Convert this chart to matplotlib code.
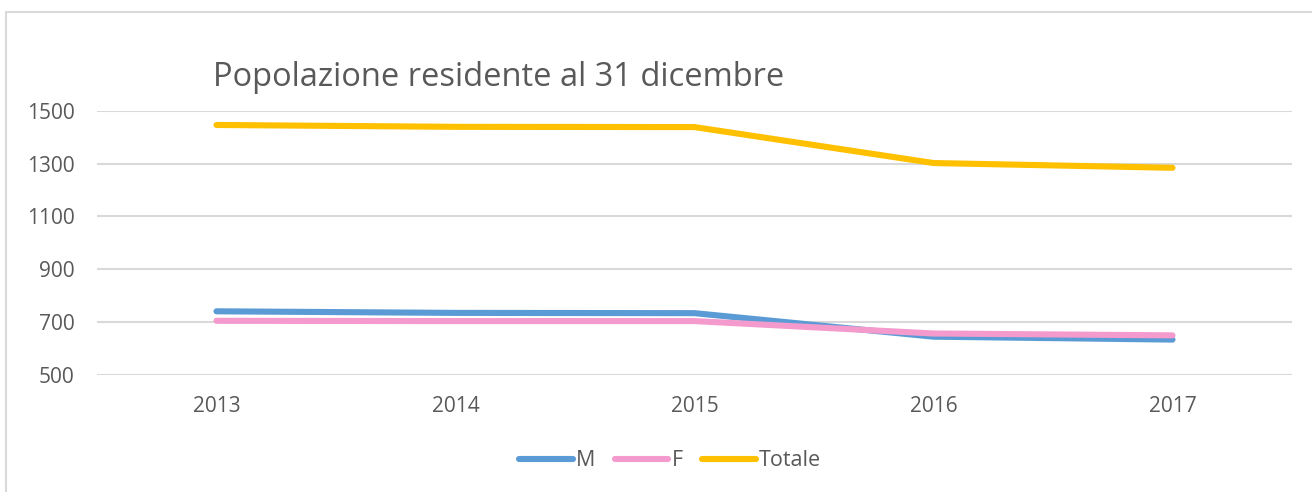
import matplotlib.pyplot as plt
from matplotlib.patches import Rectangle

anni = ['2013', '2014', '2015', '2016', '2017']
maschi = [741, 735, 734, 645, 634]
femmine = [705, 704, 704, 657, 650]
totale = [1446, 1439, 1438, 1302, 1284]

plt.rcParams['font.family'] = ['Open Sans', 'DejaVu Sans']
grigio = '#595959'

fig = plt.figure(figsize=(13.12, 4.92), dpi=100)
W, H = 1312, 492

# cornice del grafico
fig.patches.append(Rectangle((6 / W, -0.1), 1.2, 1 - 12 / H + 0.1, transform=fig.transFigure,
                             fill=False, edgecolor='#d9d9d9', linewidth=1.5))

ax = fig.add_axes([97 / W, 1 - 375 / H, (1292 - 97) / W, (375 - 110.7) / H])
x = range(len(anni))
ax.plot(x, maschi, color='#5b9bd5', linewidth=4.4, solid_capstyle='round', label='M')
ax.plot(x, femmine, color='#f49acd', linewidth=4.4, solid_capstyle='round', label='F')
ax.plot(x, totale, color='#ffc000', linewidth=4.4, solid_capstyle='round', label='Totale')

ax.set_xlim(-0.5, len(anni) - 0.5)
ax.set_ylim(500, 1500)
ax.set_yticks([500, 700, 900, 1100, 1300, 1500])
ax.set_xticks(list(x))
ax.set_xticklabels(anni)
ax.grid(axis='y', color='#d9d9d9', linewidth=1.5)
ax.set_axisbelow(True)
for s in ax.spines.values():
    s.set_visible(False)
ax.tick_params(length=0, labelsize=15, labelcolor=grigio)
ax.tick_params(axis='x', pad=15)
ax.tick_params(axis='y', pad=16)

fig.text(213 / W, 1 - 77 / H, 'Popolazione residente al 31 dicembre', fontsize=23.5,
         color=grigio, ha='left', va='center')

fig.legend(loc='center', bbox_to_anchor=(670 / W, 1 - 461 / H), ncol=3, frameon=False,
           fontsize=15.5, labelcolor=grigio, handlelength=2.5, handletextpad=0.15,
           columnspacing=0.9)

fig.savefig('out.png', dpi=100)
